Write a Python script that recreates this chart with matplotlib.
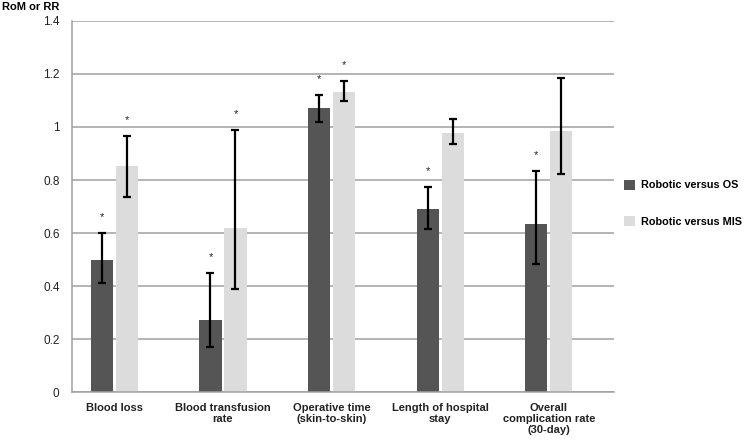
import numpy as np
import matplotlib.pyplot as plt

plt.rc("font", family=["Liberation Sans", "DejaVu Sans"], size=8)

# data
categories = ["Blood loss", "Blood transfusion\nrate", "Operative time\n(skin-to-skin)",
              "Length of hospital\nstay", "Overall\ncomplication rate\n(30-day)"]
series_names = ["Robotic versus OS", "Robotic versus MIS"]

os_vals = [0.50, 0.27, 1.07, 0.69, 0.635]
os_lo = [0.41, 0.17, 1.02, 0.615, 0.482]
os_hi = [0.60, 0.45, 1.122, 0.775, 0.835]
os_star = [True, True, True, True, True]

mis_vals = [0.853, 0.618, 1.132, 0.979, 0.985]
mis_lo = [0.737, 0.39, 1.097, 0.936, 0.824]
mis_hi = [0.967, 0.988, 1.175, 1.029, 1.186]
mis_star = [True, True, True, False, False]

colors = ["#555555", "#dcdcdc"]

fig = plt.figure(figsize=(7.5, 4.42), dpi=100)
ax = fig.add_axes([0.096, 0.1131, 0.7227, 0.8394])

x = np.arange(len(categories))
off = 0.115
w = 0.205

for i, (vals, lo, hi, star) in enumerate([(os_vals, os_lo, os_hi, os_star),
                                          (mis_vals, mis_lo, mis_hi, mis_star)]):
    xs = x + (-off if i == 0 else off)
    vals = np.array(vals)
    lo = np.array(lo)
    hi = np.array(hi)
    ax.bar(xs, vals, width=w, color=colors[i], label=series_names[i], zorder=2)
    ax.errorbar(xs, vals, yerr=[vals - lo, hi - vals], fmt="none", ecolor="black",
                elinewidth=1.6, capsize=2.6, capthick=1.6, zorder=3)
    for xx, h, s in zip(xs, hi, star):
        if s:
            ax.text(xx, h + 0.06, "*", ha="center", va="center", fontsize=8, color="#222222")

ax.set_xlim(-0.39, 4.6)
ax.set_ylim(0, 1.4)
ax.set_yticks(np.arange(0, 1.41, 0.2))
ax.set_yticklabels(["0", "0.2", "0.4", "0.6", "0.8", "1", "1.2", "1.4"], fontsize=8.5)
ax.yaxis.grid(True, color="#a0a0a0", lw=1.1, zorder=0)
ax.set_axisbelow(True)
ax.set_xticks(x)
ax.set_xticklabels(categories, fontweight="bold", linespacing=1.1)
ax.tick_params(axis="both", length=0, pad=9, colors="#222222")
ax.tick_params(axis="x", pad=8)
for s in ["top", "right"]:
    ax.spines[s].set_visible(False)
for s in ["left", "bottom"]:
    ax.spines[s].set_color("#a0a0a0")
    ax.spines[s].set_linewidth(1.1)

fig.text(0.003, 0.985, "RoM or RR", fontweight="bold", fontsize=8, va="center", ha="left")

ax.legend(loc="center left", bbox_to_anchor=(0.819, 0.54), bbox_transform=fig.transFigure,
          frameon=False, handlelength=1.05, handleheight=1.05, labelspacing=2.4,
          handletextpad=0.5, prop={"weight": "bold", "size": 7.8})

fig.savefig("out.png", dpi=100)
